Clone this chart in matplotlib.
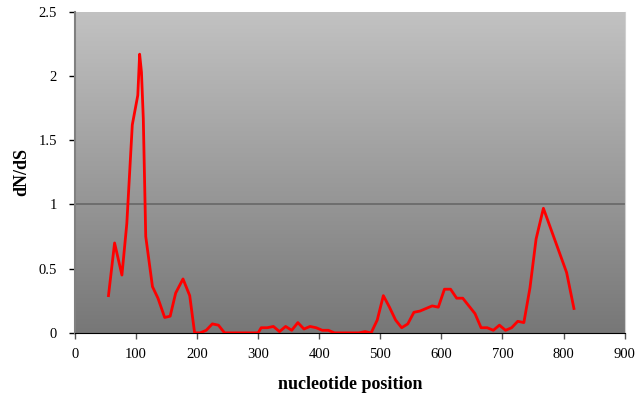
import numpy as np
import matplotlib
matplotlib.use('Agg')
import matplotlib.pyplot as plt
from matplotlib.colors import LinearSegmentedColormap

plt.rcParams['font.family'] = ['Liberation Serif', 'DejaVu Serif']

# dN/dS along the sequence
position = [55, 65, 77, 85, 94, 103, 106, 109, 112, 116, 127, 136, 147, 156, 165, 177, 188, 196,
            205, 215, 225, 235, 245, 260, 280, 300, 305, 315, 325, 335, 345, 355, 365, 375, 385,
            395, 405, 415, 425, 445, 465, 475, 485, 495, 505, 515, 525, 535, 545, 555, 565,
            575, 585, 595, 605, 615, 625, 635, 645, 655, 665, 675, 685, 695, 705, 715, 725,
            735, 745, 755, 767, 805, 817]
dnds = [0.29, 0.70, 0.45, 0.85, 1.62, 1.85, 2.17, 2.03, 1.67, 0.75, 0.36, 0.27, 0.12, 0.13, 0.31,
        0.42, 0.29, 0.0, 0.0, 0.02, 0.07, 0.06, 0.0, 0.0, 0.0, 0.0, 0.04, 0.04, 0.05, 0.01,
        0.05, 0.02, 0.08, 0.03, 0.05, 0.04, 0.02, 0.02, 0.0, 0.0, 0.0, 0.01, 0.0, 0.10, 0.29,
        0.20, 0.10, 0.04, 0.07, 0.16, 0.17, 0.19, 0.21, 0.20, 0.34, 0.34, 0.27, 0.27, 0.21,
        0.15, 0.04, 0.04, 0.02, 0.06, 0.02, 0.04, 0.09, 0.08, 0.35, 0.73, 0.97, 0.47, 0.19]

fig = plt.figure(figsize=(6.4, 3.93), dpi=100)
ax = fig.add_axes([0.117, 0.153, 0.859, 0.817])

# grey gradient plot area
cmap = LinearSegmentedColormap.from_list('bg', ['#777777', '#c2c2c2'])
grad = np.linspace(0, 1, 256).reshape(-1, 1)
ax.imshow(grad, cmap=cmap, extent=[0, 900, 0, 2.5], aspect='auto', origin='lower', zorder=0)

ax.axhline(1, color='#6a6a6a', lw=1.3, zorder=1)
ax.plot(position, dnds, color='#ff0000', lw=2, zorder=3)

ax.set_xlim(0, 900)
ax.set_ylim(0, 2.5)
ax.set_xticks(np.arange(0, 901, 100))
ax.set_yticks([0, 0.5, 1, 1.5, 2, 2.5])
ax.set_yticklabels(['0', '0.5', '1', '1.5', '2', '2.5'])
ax.tick_params(labelsize=10.5, direction='out', length=4, width=1, color='black')
ax.tick_params(axis='y', pad=9)
ax.tick_params(axis='x', pad=7, color='#555555')

ax.spines['left'].set_color('#808080')
ax.spines['bottom'].set_color('black')
ax.spines['top'].set_visible(False)
ax.spines['right'].set_color('#d0d0d0')
ax.spines['left'].set_linewidth(1.5)

ax.set_xlabel('nucleotide position', fontsize=13, fontweight='bold', labelpad=11)
ax.set_ylabel('dN/dS', fontsize=13, fontweight='bold', labelpad=6)

fig.savefig('out.png', dpi=100)
